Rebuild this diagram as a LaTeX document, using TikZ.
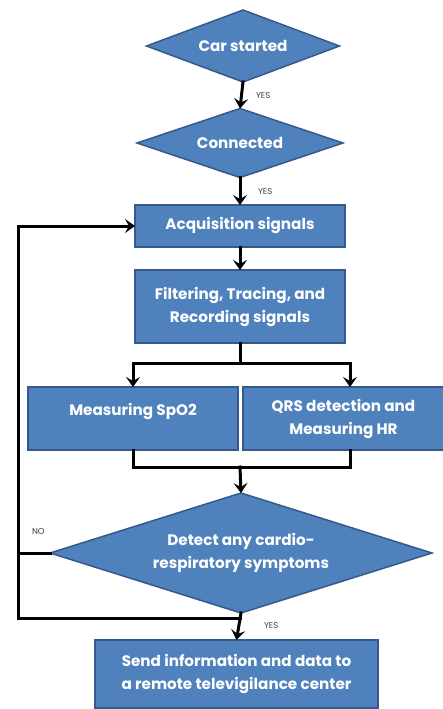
\documentclass[tikz,border=0pt]{standalone}
\usepackage{fontspec}
\setmainfont{Poppins}
\usetikzlibrary{shapes.geometric,arrows.meta}
\definecolor{boxfill}{HTML}{4F81BD}
\definecolor{boxedge}{HTML}{35598A}
\begin{document}
\begin{tikzpicture}[x=1pt,y=-1pt,
  every node/.style={inner sep=0pt,outer sep=0pt},
  blk/.style={fill=boxfill,draw=boxedge,line width=1.5pt,text=white,align=center,
    font=\fontsize{15.2}{23}\selectfont\bfseries},
  dia/.style={blk,diamond},
  conn/.style={line width=3pt,line cap=rect},
  arr/.style={conn,-{Stealth[length=10pt,width=14pt,inset=4pt]}},
  lbl/.style={font=\fontsize{8.5}{9}\selectfont,text=black!75}]
\useasboundingbox (0,0) rectangle (443,709);
\fill[white] (0,0) rectangle (443,709);
% nodes
\node[dia,minimum width=193pt,minimum height=72pt,shape aspect=2.68] (car) at (243,46) {Car started};
\node[dia,minimum width=206pt,minimum height=69pt,shape aspect=3] (con) at (240,143) {Connected};
\node[blk,minimum width=210pt,minimum height=42pt] (acq) at (240,226) {Acquisition signals};
\node[blk,minimum width=210pt,minimum height=73pt] (fil) at (240,306.5) {Filtering, Tracing, and\\Recording signals};
\node[blk,minimum width=210pt,minimum height=63pt,text depth=19pt] (spo) at (133,418.5) {Measuring SpO2};
\node[blk,minimum width=201pt,minimum height=63pt] (qrs) at (343.5,418.5) {QRS detection and\\Measuring HR};
\node[dia,minimum width=382pt,minimum height=120pt,shape aspect=3.18] (det) at (241,553) {Detect any cardio-\\respiratory symptoms};
\node[blk,minimum width=283pt,minimum height=68pt] (snd) at (236.5,674) {Send information and data to\\a remote televigilance center};
% junction coordinates
\coordinate (s1) at (240,363);
\coordinate (s1l) at (133,363);
\coordinate (s1r) at (350,363);
\coordinate (m1l) at (133,467);
\coordinate (m1r) at (350,467);
\coordinate (m1) at (240,467);
\coordinate (lpA) at (18,226);
\coordinate (lpN) at (18,553);
\coordinate (lpB) at (18,618);
\coordinate (lpC) at (240,618);
% connectors
\draw[arr] (car.south) -- (con.north);
\draw[arr] (con.south) -- (acq.north);
\draw[arr] (acq.south) -- (fil.north);
\draw[conn] (fil.south) -- (s1);
\draw[conn] (s1l) -- (s1r);
\draw[arr] (s1l) -- (spo.north -| s1l);
\draw[arr] (s1r) -- (qrs.north -| s1r);
\draw[conn] (spo.south -| m1l) -- (m1l) -- (m1r) -- (qrs.south -| m1r);
\draw[arr] (m1) -- (det.north);
\draw[arr] (det.south) -- (snd.north);
\draw[conn] (det.west) -- (lpN);
\draw[arr] (lpB) -- (lpA) -- (acq.west);
\draw[conn] (lpB) -- (lpC);
% labels
\node[lbl,anchor=west] (y1) at (256,96) {YES};
\node[lbl,anchor=west] (y2) at (258,192) {YES};
\node[lbl,anchor=west] (y3) at (264,626) {YES};
\node[lbl,anchor=west] (n1) at (32,532) {NO};
\end{tikzpicture}
\end{document}
